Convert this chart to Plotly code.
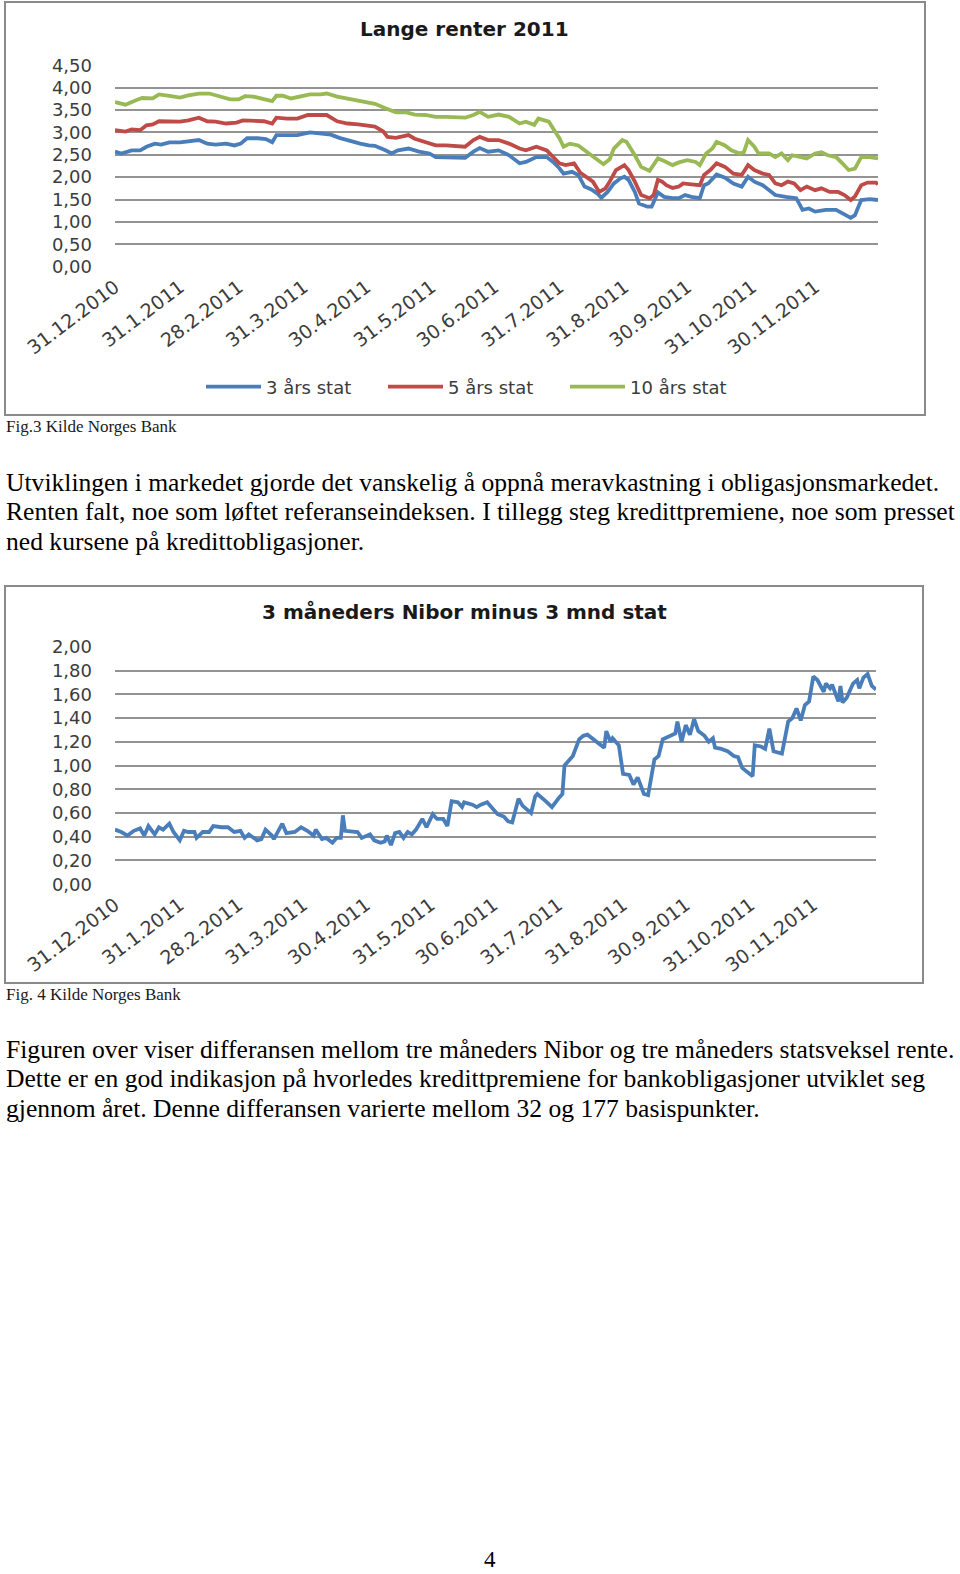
import datetime as dt
import plotly.graph_objects as go

# ---------------- data ----------------
BASE_DATE = dt.date(2010, 12, 31)

month_ticks = ["2010-12-31", "2011-01-31", "2011-02-28", "2011-03-31", "2011-04-30", "2011-05-31",
               "2011-06-30", "2011-07-31", "2011-08-31", "2011-09-30", "2011-10-31", "2011-11-30"]
month_labels = ["31.12.2010", "31.1.2011", "28.2.2011", "31.3.2011", "30.4.2011", "31.5.2011",
                "30.6.2011", "31.7.2011", "31.8.2011", "30.9.2011", "31.10.2011", "30.11.2011"]

# Fig.3 - day offsets from 31.12.2010 and yields (%)
stat3_days = [0, 3, 8, 12, 15, 19, 22, 26, 31, 35,
              40, 44, 48, 53, 57, 60, 63, 68, 72, 75,
              77, 82, 87, 93, 98, 103, 107, 112, 117, 121,
              124, 129, 132, 135, 140, 145, 150, 153, 158, 163,
              167, 171, 174, 178, 183, 188, 193, 196, 201, 206,
              209, 212, 214, 218, 221, 224, 227, 230, 232, 235,
              238, 241, 243, 245, 248, 250, 254, 256, 258, 259,
              262, 266, 269, 272, 275, 279, 281, 283, 287, 291,
              295, 299, 302, 305, 309, 312, 315, 320, 325, 328,
              331, 334, 339, 344, 347, 351, 353, 356, 360, 364]
stat3_vals = [2.57, 2.53, 2.60, 2.60, 2.68, 2.75, 2.73, 2.78, 2.78, 2.81,
              2.83, 2.75, 2.73, 2.75, 2.71, 2.75, 2.87, 2.87, 2.85, 2.78,
              2.94, 2.94, 2.94, 3.00, 2.98, 2.95, 2.88, 2.81, 2.75, 2.71,
              2.70, 2.60, 2.53, 2.60, 2.64, 2.57, 2.53, 2.45, 2.45, 2.45,
              2.43, 2.57, 2.65, 2.57, 2.60, 2.49, 2.31, 2.34, 2.45, 2.45,
              2.34, 2.20, 2.08, 2.12, 2.05, 1.79, 1.73, 1.64, 1.54, 1.67,
              1.86, 1.97, 2.01, 1.94, 1.67, 1.41, 1.34, 1.34, 1.53, 1.66,
              1.56, 1.53, 1.53, 1.60, 1.56, 1.53, 1.82, 1.86, 2.06, 1.99,
              1.86, 1.79, 2.01, 1.90, 1.82, 1.71, 1.60, 1.56, 1.53, 1.27,
              1.30, 1.23, 1.27, 1.27, 1.19, 1.09, 1.15, 1.49, 1.51, 1.49]

stat5_days = [0, 5, 8, 12, 15, 18, 21, 26, 31, 35,
              40, 44, 48, 53, 58, 61, 66, 71, 75, 77,
              82, 87, 92, 96, 101, 106, 111, 116, 121, 124,
              128, 130, 134, 137, 140, 143, 148, 153, 158, 163,
              167, 171, 174, 178, 183, 188, 193, 196, 201, 206,
              209, 212, 215, 219, 222, 225, 228, 231, 234, 236,
              239, 243, 245, 248, 251, 255, 257, 259, 261, 263,
              266, 269, 271, 275, 279, 281, 284, 287, 291, 295,
              299, 302, 305, 309, 312, 315, 318, 321, 324, 327,
              330, 334, 337, 341, 345, 348, 351, 353, 356, 359,
              363, 364]
stat5_vals = [3.05, 3.02, 3.07, 3.05, 3.16, 3.18, 3.25, 3.25, 3.24, 3.27,
              3.33, 3.25, 3.24, 3.20, 3.22, 3.27, 3.27, 3.25, 3.20, 3.33,
              3.31, 3.31, 3.39, 3.39, 3.39, 3.25, 3.20, 3.18, 3.15, 3.13,
              3.02, 2.90, 2.88, 2.90, 2.94, 2.86, 2.79, 2.71, 2.71, 2.70,
              2.68, 2.83, 2.90, 2.83, 2.83, 2.75, 2.64, 2.60, 2.68, 2.60,
              2.45, 2.31, 2.27, 2.31, 2.10, 2.00, 1.90, 1.67, 1.75, 1.90,
              2.16, 2.27, 2.16, 1.90, 1.60, 1.53, 1.60, 1.94, 1.90, 1.82,
              1.76, 1.79, 1.86, 1.84, 1.82, 2.05, 2.16, 2.31, 2.23, 2.08,
              2.05, 2.27, 2.16, 2.08, 2.05, 1.86, 1.82, 1.90, 1.86, 1.71,
              1.79, 1.71, 1.75, 1.67, 1.67, 1.60, 1.49, 1.57, 1.82, 1.88,
              1.88, 1.84]

stat10_days = [0, 5, 10, 13, 18, 21, 26, 31, 35, 40,
               45, 50, 55, 59, 62, 66, 71, 75, 77, 80,
               84, 88, 93, 98, 101, 106, 111, 116, 121, 124,
               129, 134, 139, 143, 148, 153, 158, 163, 167, 171,
               174, 178, 183, 188, 193, 196, 200, 202, 207, 209,
               212, 214, 217, 221, 225, 230, 233, 236, 238, 242,
               244, 248, 251, 255, 257, 259, 262, 266, 269, 273,
               277, 279, 282, 285, 287, 291, 294, 298, 300, 302,
               305, 307, 312, 315, 318, 321, 323, 327, 330, 334,
               337, 340, 344, 347, 350, 353, 356, 360, 364]
stat10_vals = [3.68, 3.62, 3.72, 3.77, 3.76, 3.85, 3.82, 3.78, 3.83, 3.87,
               3.87, 3.80, 3.74, 3.74, 3.81, 3.80, 3.75, 3.70, 3.82, 3.82,
               3.76, 3.80, 3.85, 3.85, 3.87, 3.80, 3.75, 3.72, 3.65, 3.64,
               3.54, 3.45, 3.45, 3.40, 3.39, 3.35, 3.35, 3.33, 3.33, 3.39,
               3.46, 3.35, 3.40, 3.35, 3.20, 3.24, 3.17, 3.31, 3.24, 3.09,
               2.87, 2.68, 2.75, 2.71, 2.57, 2.38, 2.29, 2.40, 2.64, 2.83,
               2.79, 2.49, 2.23, 2.14, 2.27, 2.42, 2.36, 2.27, 2.33, 2.38,
               2.34, 2.27, 2.53, 2.64, 2.79, 2.71, 2.60, 2.53, 2.56, 2.83,
               2.68, 2.53, 2.53, 2.45, 2.53, 2.38, 2.49, 2.45, 2.42, 2.53,
               2.56, 2.49, 2.45, 2.31, 2.16, 2.19, 2.45, 2.45, 2.42]

# Fig.4 - 3m Nibor minus 3m stat (%)
spread_days = [0, 3, 6, 9, 12, 14, 16, 19, 21, 23,
               26, 28, 31, 33, 35, 38, 39, 42, 45, 47,
               51, 54, 57, 60, 62, 64, 68, 70, 72, 75,
               76, 78, 80, 82, 86, 89, 92, 95, 96, 99,
               101, 104, 106, 108, 109, 110, 114, 116, 118, 122,
               124, 127, 129, 130, 132, 134, 136, 138, 140, 142,
               144, 147, 149, 152, 154, 157, 159, 161, 164, 166,
               167, 171, 173, 175, 178, 180, 183, 186, 188, 190,
               193, 195, 199, 201, 202, 206, 209, 212, 214, 215,
               217, 219, 222, 224, 226, 229, 231, 234, 235, 237,
               238, 241, 243, 246, 248, 250, 253, 255, 258, 260,
               262, 266, 268, 269, 271, 273, 275, 277, 279, 282,
               284, 286, 287, 290, 293, 296, 298, 300, 303, 305,
               306, 309, 311, 313, 315, 317, 319, 322, 324, 326,
               328, 330, 332, 334, 336, 339, 340, 342, 343, 346,
               347, 348, 350, 353, 355, 356, 358, 360, 362, 364]
spread_vals = [0.46, 0.44, 0.41, 0.45, 0.47, 0.41, 0.49, 0.42, 0.48, 0.46,
               0.51, 0.44, 0.37, 0.45, 0.44, 0.44, 0.39, 0.44, 0.44, 0.49,
               0.48, 0.48, 0.44, 0.45, 0.39, 0.42, 0.37, 0.38, 0.46, 0.41,
               0.38, 0.44, 0.51, 0.43, 0.44, 0.48, 0.45, 0.41, 0.46, 0.38,
               0.39, 0.35, 0.39, 0.39, 0.58, 0.45, 0.44, 0.44, 0.39, 0.42,
               0.37, 0.35, 0.36, 0.41, 0.33, 0.43, 0.44, 0.39, 0.44, 0.42,
               0.46, 0.55, 0.48, 0.59, 0.55, 0.55, 0.49, 0.70, 0.69, 0.65,
               0.69, 0.67, 0.65, 0.67, 0.69, 0.65, 0.59, 0.57, 0.53, 0.52,
               0.72, 0.66, 0.60, 0.74, 0.76, 0.70, 0.65, 0.72, 0.76, 1.00,
               1.04, 1.08, 1.22, 1.25, 1.26, 1.22, 1.20, 1.15, 1.29, 1.20,
               1.23, 1.17, 0.93, 0.92, 0.84, 0.90, 0.76, 0.75, 1.05, 1.08,
               1.22, 1.25, 1.27, 1.37, 1.20, 1.34, 1.26, 1.39, 1.29, 1.25,
               1.20, 1.23, 1.15, 1.14, 1.12, 1.08, 1.07, 0.98, 0.94, 0.91,
               1.17, 1.16, 1.14, 1.31, 1.12, 1.11, 1.10, 1.37, 1.40, 1.48,
               1.38, 1.51, 1.54, 1.75, 1.72, 1.62, 1.69, 1.65, 1.68, 1.54,
               1.67, 1.53, 1.57, 1.69, 1.72, 1.65, 1.74, 1.77, 1.67, 1.64]

series_names = ["3 års stat", "5 års stat", "10 års stat"]
series_colors = ["#4A7EBB", "#BE4B48", "#98B954"]

title1 = "Lange renter 2011"
title2 = "3 måneders Nibor minus 3 mnd stat"
caption1 = "Fig.3 Kilde Norges Bank"
caption2 = "Fig. 4 Kilde Norges Bank"
para1 = ["Utviklingen i markedet gjorde det vanskelig å oppnå meravkastning i obligasjonsmarkedet.",
         "Renten falt, noe som løftet referanseindeksen. I tillegg steg kredittpremiene, noe som presset",
         "ned kursene på kredittobligasjoner."]
para2 = ["Figuren over viser differansen mellom tre måneders Nibor og tre måneders statsveksel rente.",
         "Dette er en god indikasjon på hvorledes kredittpremiene for bankobligasjoner utviklet seg",
         "gjennom året. Denne differansen varierte mellom 32 og 177 basispunkter."]
page_number = "4"


def to_dates(days):
    return [(BASE_DATE + dt.timedelta(days=d)).isoformat() for d in days]


# ---------------- geometry helpers (page pixels -> paper) ----------------
W, H = 960, 1574


def px(x):
    return x / W


def py(y):
    return 1 - y / H


fig = go.Figure()

for days, vals, name, color in zip([stat3_days, stat5_days, stat10_days],
                                   [stat3_vals, stat5_vals, stat10_vals],
                                   series_names, series_colors):
    fig.add_trace(go.Scatter(x=to_dates(days), y=vals, mode="lines", name=name,
                             line=dict(color=color, width=3.8), xaxis="x", yaxis="y"))

fig.add_trace(go.Scatter(x=to_dates(spread_days), y=spread_vals, mode="lines",
                         name="Nibor - stat", showlegend=False,
                         line=dict(color=series_colors[0], width=3.8), xaxis="x2", yaxis="y2"))

tick_font = dict(family="DejaVu Sans", size=18, color="#3c3c3c")
grid_col = "#939393"

common_x = dict(type="date", range=["2010-12-31", "2011-12-30"], tickmode="array",
                tickvals=month_ticks, ticktext=month_labels, tickangle=-37,
                showgrid=False, zeroline=False, showline=False, ticks="",
                tickfont=dict(family="DejaVu Sans", size=19, color="#3c3c3c"),
                ticklabelstandoff=5, fixedrange=True, automargin=False)
common_y = dict(showgrid=True, gridcolor=grid_col, gridwidth=1.6, zeroline=False,
                showline=False, ticks="", tickformat=".2f", tickfont=tick_font,
                ticklabelstandoff=22, fixedrange=True, automargin=False)

fig.update_layout(
    width=W, height=H, margin=dict(l=0, r=0, t=0, b=0, pad=0, autoexpand=False),
    paper_bgcolor="white", plot_bgcolor="white", separators=", ",
    xaxis=dict(common_x, domain=[px(115), px(878)], anchor="y"),
    yaxis=dict(common_y, domain=[py(266.7), py(65.3)], anchor="x",
               range=[-0.001, 4.501], dtick=0.5, tick0=0),
    xaxis2=dict(common_x, domain=[px(115), px(876)], anchor="y2"),
    yaxis2=dict(common_y, domain=[py(884.3), py(646.7)], anchor="x2",
                range=[-0.0005, 2.0005], dtick=0.2, tick0=0),
    legend=dict(orientation="h", x=px(201), xanchor="left", y=py(387), yanchor="middle",
                font=dict(family="DejaVu Sans", size=18, color="#3c3c3c"),
                bgcolor="rgba(0,0,0,0)", itemwidth=55, entrywidth=112, entrywidthmode="pixels"),
    showlegend=True,
)

frame = dict(type="rect", xref="paper", yref="paper", line=dict(color="#8a8a8a", width=2),
             fillcolor="rgba(0,0,0,0)", layer="below")
fig.add_shape(frame, x0=px(5), x1=px(925), y0=py(415), y1=py(2))
fig.add_shape(frame, x0=px(5), x1=px(923), y0=py(983), y1=py(586))

ann = []
title_font = dict(family="DejaVu Sans", size=20, color="#1a1a1a", weight="bold")
ann.append(dict(text=title1, x=px(464), y=py(29), font=title_font))
ann.append(dict(text=title2, x=px(464), y=py(612), font=title_font))

cap_font = dict(family="Liberation Serif", size=17, color="#1a1a1a")
ann.append(dict(text=caption1, x=px(4), y=py(427), xanchor="left", font=cap_font))
ann.append(dict(text=caption2, x=px(4), y=py(994), xanchor="left", font=cap_font))

body_font = dict(family="Liberation Serif", size=25.6, color="#000000")
for i, line in enumerate(para1):
    ann.append(dict(text=line, x=px(4), y=py(482 + 29.5 * i), xanchor="left", font=body_font))
for i, line in enumerate(para2):
    ann.append(dict(text=line, x=px(4), y=py(1049 + 29.5 * i), xanchor="left", font=body_font))
ann.append(dict(text=page_number, x=px(490), y=py(1559),
                font=dict(family="Liberation Serif", size=23, color="#000000")))

for a in ann:
    a.update(xref="paper", yref="paper", showarrow=False, yanchor="middle")
    a.setdefault("xanchor", "center")
fig.update_layout(annotations=ann)

fig.write_html("out.html")
